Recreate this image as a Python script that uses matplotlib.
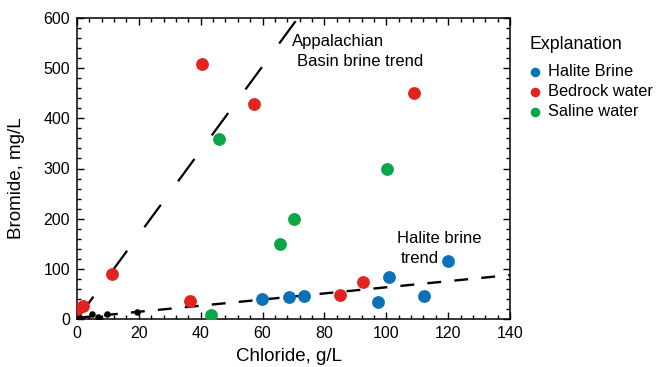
import matplotlib
matplotlib.use('Agg')
import matplotlib.pyplot as plt
from matplotlib.ticker import MultipleLocator

plt.rcParams['font.family'] = ['Liberation Sans', 'DejaVu Sans']
plt.rcParams['lines.scale_dashes'] = False

# Chloride (g/L), Bromide (mg/L)
halite_cl = [59.8, 68.4, 73.3, 97.2, 101.0, 112.3, 119.9]
halite_br = [39.8, 44.4, 46.4, 33.9, 84.3, 45.2, 115.5]

bedrock_cl = [0.1, 2.0, 11.2, 36.5, 40.5, 57.3, 84.9, 92.5, 109.0]
bedrock_br = [19.0, 26.0, 89.6, 36.5, 509.0, 428.0, 47.2, 73.0, 449.6]

saline_cl = [43.2, 45.9, 65.5, 70.3, 100.2]
saline_br = [8.0, 358.6, 148.8, 198.6, 298.8]

other_cl = [0.0, 0.0, 0.5, 5.0, 6.8, 7.2, 9.6, 19.4]
other_br = [0.5, 6.0, 3.0, 10.0, 4.5, 1.5, 10.5, 14.5]

# trend lines: bromide = slope * chloride + intercept
appalachian_slope = 8.4
halite_slope = 0.61
halite_intercept = 2.2

blue = '#0B72B7'
red = '#E2231F'
green = '#0BA648'

fig = plt.figure(figsize=(6.56, 3.67), dpi=100)
ax = fig.add_axes([77 / 656, 1 - 319 / 367, 433 / 656, 301 / 367])

# trend lines
ax.plot([0, 600 / appalachian_slope], [0, 600], color='black', lw=1.6,
        linestyle=(0, (20, 21)), zorder=2)
ax.plot([0, 140], [halite_intercept, halite_intercept + halite_slope * 140],
        color='black', lw=1.7, linestyle=(0, (10, 9.5)), zorder=2)

ax.scatter(other_cl, other_br, s=22, color='black', zorder=3, linewidths=0)
ax.scatter(halite_cl, halite_br, s=85, color=blue, zorder=4, linewidths=0,
           label='Halite Brine')
ax.scatter(bedrock_cl, bedrock_br, s=85, color=red, zorder=4, linewidths=0,
           label='Bedrock water')
ax.scatter(saline_cl, saline_br, s=85, color=green, zorder=4, linewidths=0,
           label='Saline water')

ax.set_xlim(0, 140)
ax.set_ylim(0, 600)
ax.xaxis.set_major_locator(MultipleLocator(20))
ax.xaxis.set_minor_locator(MultipleLocator(4))
ax.yaxis.set_major_locator(MultipleLocator(100))
ax.yaxis.set_minor_locator(MultipleLocator(20))
ax.tick_params(which='both', direction='in', top=True, right=True,
               width=1.0, labelsize=11.5, pad=5)
ax.tick_params(which='major', length=5)
ax.tick_params(which='minor', length=3)
for s in ax.spines.values():
    s.set_linewidth(1.1)

ax.set_xlabel('Chloride, g/L', fontsize=13.5)
ax.set_ylabel('Bromide, mg/L', fontsize=13.5)
ax.xaxis.label.set_va('center')
ax.yaxis.label.set_va('center')
ax.xaxis.set_label_coords(0.49, -0.126)
ax.yaxis.set_label_coords(-0.139, 0.467)

ax.text(69.4, 552.7, 'Appalachian', fontsize=12, va='center', ha='left')
ax.text(71.0, 512.8, 'Basin brine trend', fontsize=12, va='center', ha='left')
ax.text(103.4, 160.9, 'Halite brine', fontsize=12, va='center', ha='left')
ax.text(104.7, 121.0, 'trend', fontsize=12, va='center', ha='left')

leg = ax.legend(loc='upper left', bbox_to_anchor=(1.046, 0.94), frameon=False,
                title='Explanation', fontsize=11.8, title_fontsize=12.8,
                markerscale=0.75, handlelength=0.6, handletextpad=0.5,
                labelspacing=0.3, borderaxespad=0, borderpad=0,
                alignment='left')
leg._legend_box.sep = 8

fig.savefig('out.png', dpi=100)
